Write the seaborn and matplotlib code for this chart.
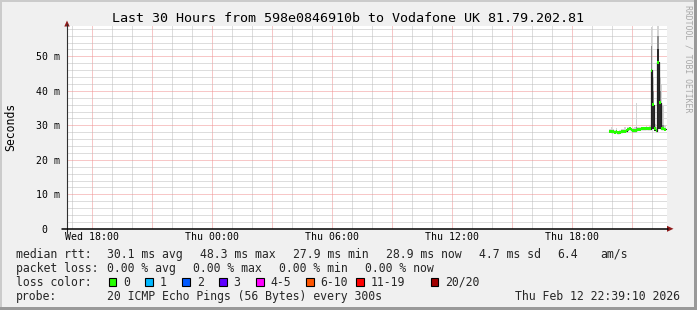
import numpy as np
import pandas as pd
import matplotlib
matplotlib.use("Agg")
import matplotlib.pyplot as plt
import seaborn as sns
from matplotlib.patches import Rectangle, Polygon
from matplotlib.lines import Line2D

# ---------------- data ----------------
title = "Last 30 Hours from 598e0846910b to Vodafone UK 81.79.202.81"

sample_times = [
    "Thu 19:51", "Thu 19:56", "Thu 20:01", "Thu 20:06", "Thu 20:11", "Thu 20:16",
    "Thu 20:21", "Thu 20:26", "Thu 20:31", "Thu 20:36", "Thu 20:41", "Thu 20:46",
    "Thu 20:51", "Thu 20:56", "Thu 21:01", "Thu 21:06", "Thu 21:11", "Thu 21:16",
    "Thu 21:21", "Thu 21:26", "Thu 21:31", "Thu 21:36", "Thu 21:41", "Thu 21:46",
    "Thu 21:51", "Thu 21:56", "Thu 22:01", "Thu 22:06", "Thu 22:11", "Thu 22:16",
    "Thu 22:21", "Thu 22:26", "Thu 22:31", "Thu 22:36",
]
sample_end = "Thu 22:41"

median_ms = [28.3, 28.2, 28.1, 28.0, 28.1, 27.9, 28.0, 28.2, 28.3, 28.3, 28.4, 28.9,
             29.0, 28.7, 28.5, 28.5, 28.6, 28.8, 28.9, 29.0, 29.0, 29.0, 29.1, 29.0,
             29.0, 46.0, 36.0, 29.0, 28.5, 48.3, 36.6, 29.0, 29.0, 28.9]
smoke_lo_ms = [28.0, 27.9, 27.9, 27.8, 27.8, 27.7, 27.8, 27.9, 28.0, 28.0, 28.1, 28.4,
               28.6, 28.4, 28.2, 28.2, 28.2, 28.5, 28.6, 28.7, 28.7, 28.7, 28.8, 28.7,
               28.7, 28.8, 28.8, 28.5, 28.2, 28.9, 28.8, 28.7, 28.7, 28.6]
smoke_hi_ms = [28.9, 29.6, 28.8, 28.6, 29.1, 28.5, 28.7, 29.0, 28.9, 29.4, 29.0, 29.6,
               29.5, 29.3, 29.1, 29.6, 36.4, 29.5, 29.6, 29.6, 29.5, 29.6, 29.7, 29.6,
               29.8, 58.5, 44.0, 30.5, 29.5, 58.7, 44.0, 42.0, 35.5, 30.0]
smoke_mid_ms = [28.3, 28.5, 28.3, 28.2, 28.4, 28.1, 28.2, 28.4, 28.5, 28.6, 28.6, 29.1,
                29.2, 28.9, 28.7, 28.8, 29.5, 29.0, 29.1, 29.2, 29.2, 29.2, 29.3, 29.2,
                29.2, 53.0, 40.0, 29.4, 28.8, 56.0, 40.0, 36.0, 30.0, 29.2]
smoke_dark_ms = [28.3, 28.2, 28.1, 28.0, 28.1, 27.9, 28.0, 28.2, 28.3, 28.3, 28.4, 28.9,
                 29.0, 28.7, 28.5, 28.5, 28.6, 28.8, 28.9, 29.0, 29.0, 29.0, 29.1, 29.0,
                 29.0, 46.0, 36.0, 29.0, 28.5, 52.0, 36.6, 29.0, 29.0, 28.9]

x_tick_labels = ["Wed 18:00", "Thu 00:00", "Thu 06:00", "Thu 12:00", "Thu 18:00"]
y_tick_values = [0, 10, 20, 30, 40, 50]
y_tick_labels = [" 0", "10 m", "20 m", "30 m", "40 m", "50 m"]
y_label = "Seconds"

rtt_stats = ["30.1 ms avg", "48.3 ms max", "27.9 ms min", "28.9 ms now", "4.7 ms sd"]
amps_value = "6.4"
amps_unit = "am/s"
loss_stats = ["0.00 % avg", "0.00 % max", "0.00 % min", "0.00 % now"]
loss_labels = ["0", "1", "2", "3", "4-5", "6-10", "11-19", "20/20"]
loss_colors = ["#26ff00", "#00b8ff", "#0059ff", "#5e00ff", "#ff00ff",
               "#ff5500", "#ff0000", "#a10000"]
probe_text = "20 ICMP Echo Pings (56 Bytes) every 300s"
timestamp = "Thu Feb 12 22:39:10 2026"
watermark = "RRDTOOL / TOBI OETIKER"

# ---------------- helpers ----------------
day_offset = {"Wed": 0, "Thu": 24}


def to_hours(s):
    d, hm = s.split()
    h, m = hm.split(":")
    return day_offset[d] + int(h) + int(m) / 60.0


W, H = 697, 310


def fx(x):
    return x / W


def fy(y):
    return 1 - y / H


sns.set_theme(style="white")
plt.rcParams["font.family"] = ["DejaVu Sans Mono", "DejaVu Sans"]

BG = "#f0f0f0"
fig = plt.figure(figsize=(W / 100, H / 100), dpi=100, facecolor=BG)

ax_left, ax_right, ax_top, ax_bot = 67, 667, 26, 228.8
ax = fig.add_axes([fx(ax_left), fy(ax_bot), (ax_right - ax_left) / W, (ax_bot - ax_top) / H])
ax.set_facecolor("white")
for s in ax.spines.values():
    s.set_visible(False)

t_edges = np.array([to_hours(s) for s in sample_times] + [to_hours(sample_end)])


def ext(v):
    return np.array(list(v) + [v[-1]])


df = pd.DataFrame({"t": t_edges, "median": ext(median_ms)})

lo = ext(smoke_lo_ms)
ax.fill_between(t_edges, lo, ext(smoke_hi_ms), step="post", color="#d4d4d4", lw=0, zorder=2)
ax.fill_between(t_edges, lo, ext(smoke_mid_ms), step="post", color="#8c8c8c", lw=0, zorder=3)
ax.fill_between(t_edges, lo, ext(smoke_dark_ms), step="post", color="#2a2a2a", lw=0, zorder=4)

sns.lineplot(data=df, x="t", y="median", drawstyle="steps-post", color="#202020",
             lw=0.9, ax=ax, legend=False, zorder=5)

band = 0.45
med = ext(median_ms)
ax.fill_between(t_edges, med - band, med + band, step="post", color=loss_colors[0],
                lw=0, zorder=6)

ax.set_xlim(to_hours("Wed 16:45"), to_hours("Thu 22:45"))
ax.set_ylim(0, 58.8)
ax.set_xlabel("")
ax.set_ylabel("")

# grid
x_label_hours = [to_hours(s) for s in x_tick_labels]
major_x = np.arange(18, 46, 3)
minor_x = np.arange(17, 47, 1)
ax.set_xticks(major_x)
ax.set_xticklabels([x_tick_labels[x_label_hours.index(h)] if h in x_label_hours else ""
                    for h in major_x])
ax.set_xticks(minor_x, minor=True)
ax.set_yticks(y_tick_values)
ax.set_yticklabels(y_tick_labels)
ax.set_yticks(np.arange(0, 59, 2), minor=True)

ax.set_axisbelow(True)
ax.grid(which="minor", color="#bdbdbd", lw=0.72, linestyle=(0, (1, 1)), snap=True)
ax.grid(which="major", color="#f09090", lw=0.72, linestyle=(0, (1, 1)), snap=True)

ax.tick_params(axis="both", which="both", length=0)
ax.tick_params(axis="x", which="major", pad=2.3, labelsize=7.1, labelcolor="black")
ax.tick_params(axis="y", which="major", pad=22.3, labelsize=7.1, labelcolor="black")
for lab in ax.get_yticklabels():
    lab.set_horizontalalignment("left")

# axes lines and arrows
fig.add_artist(Line2D([fx(67), fx(67)], [fy(233), fy(24)], color="#303030", lw=0.8))
fig.add_artist(Line2D([fx(62), fx(668)], [fy(228.8), fy(228.8)], color="black", lw=1.1))
fig.add_artist(Polygon([(fx(64.3), fy(26.5)), (fx(69.7), fy(26.5)), (fx(67), fy(20.5))],
                       closed=True, facecolor="#8f1a1a", edgecolor="none",
                       transform=fig.transFigure))
fig.add_artist(Polygon([(fx(667), fy(225.8)), (fx(667), fy(231.8)), (fx(673.5), fy(228.8))],
                       closed=True, facecolor="#8f1a1a", edgecolor="none",
                       transform=fig.transFigure))

# texts
fig.text(fx(348.5), fy(19), title, ha="center", va="center", fontsize=9.6, color="black")
fig.text(fx(11.2), fy(127), y_label, rotation=90, ha="center", va="center", fontsize=8.3,
         color="black")
fig.text(fx(688), fy(58.5), watermark, rotation=270, ha="center", va="center",
         fontsize=5.9, color="#a8a8a8")

LS = 8.3
rows_y = [254.3, 268.3, 282.3, 296.3]
fig.text(fx(16), fy(rows_y[0]), "median rtt:", ha="left", va="center", fontsize=LS)
for s, x in zip(rtt_stats, [107.3, 200, 292.7, 386, 479]):
    fig.text(fx(x), fy(rows_y[0]), s, ha="left", va="center", fontsize=LS)
fig.text(fx(557.7), fy(rows_y[0]), amps_value, ha="left", va="center", fontsize=LS)
fig.text(fx(600), fy(rows_y[0]), amps_unit, ha="left", va="center", fontsize=LS)

fig.text(fx(16), fy(rows_y[1]), "packet loss:", ha="left", va="center", fontsize=LS)
for s, x in zip(loss_stats, [107.3, 193.3, 279.3, 365]):
    fig.text(fx(x), fy(rows_y[1]), s, ha="left", va="center", fontsize=LS)

fig.text(fx(16), fy(rows_y[2]), "loss color:", ha="left", va="center", fontsize=LS)
box_x = [108.7, 145.3, 182.3, 219, 256, 306, 356, 430.7]
for lab, col, x in zip(loss_labels, loss_colors, box_x):
    fig.add_artist(Rectangle((fx(x), fy(286.3)), 7.6 / W, 8 / H, facecolor=col,
                             edgecolor="black", lw=0.8, transform=fig.transFigure))
    fig.text(fx(x + 14.6), fy(rows_y[2]), lab, ha="left", va="center", fontsize=LS)

fig.text(fx(16), fy(rows_y[3]), "probe:", ha="left", va="center", fontsize=LS)
fig.text(fx(107.3), fy(rows_y[3]), probe_text, ha="left", va="center", fontsize=LS)
fig.text(fx(680), fy(rows_y[3]), timestamp, ha="right", va="center", fontsize=LS)

# frame
fig.add_artist(Rectangle((0, fy(2)), 1, 2 / H, facecolor="#cbcbcb", edgecolor="none",
                         transform=fig.transFigure))
fig.add_artist(Rectangle((0, 0), 2 / W, 1, facecolor="#cbcbcb", edgecolor="none",
                         transform=fig.transFigure))
fig.add_artist(Rectangle((0, 0), 1, 3 / H, facecolor="#999999", edgecolor="none",
                         transform=fig.transFigure))
fig.add_artist(Rectangle((fx(694), 0), 3 / W, 1, facecolor="#999999", edgecolor="none",
                         transform=fig.transFigure))

fig.savefig("out.png", dpi=100, facecolor=BG)
